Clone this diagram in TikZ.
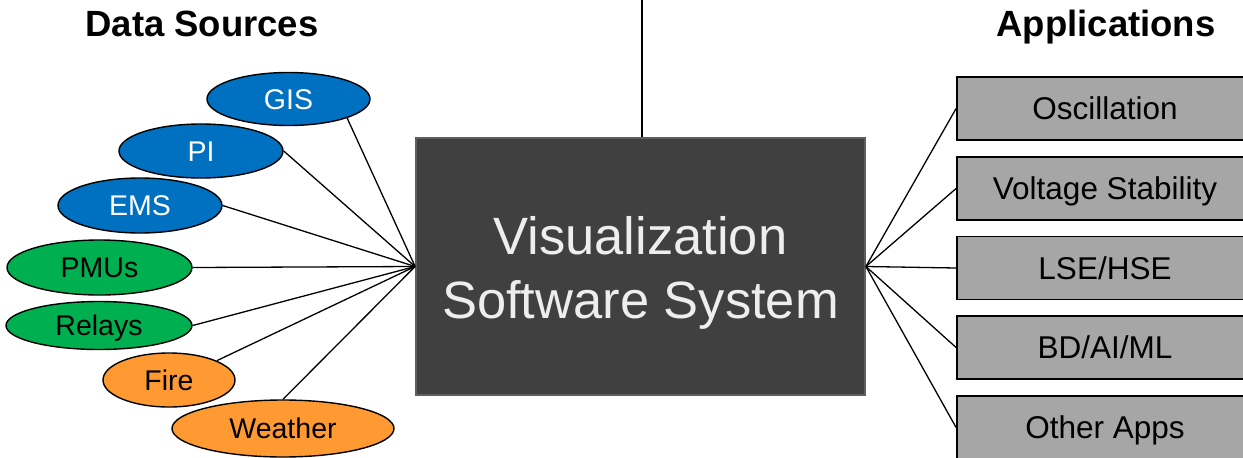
\documentclass[tikz,border=0pt]{standalone}
\usepackage{fontspec}
\setmainfont{Liberation Sans}
\usetikzlibrary{shapes.geometric}
\definecolor{srcblue}{HTML}{0070C0}
\definecolor{srcgreen}{HTML}{00B050}
\definecolor{srcorange}{HTML}{FF9A33}
\definecolor{appgray}{HTML}{A6A6A6}
\definecolor{coredark}{HTML}{404040}
\definecolor{coreedge}{HTML}{5F5F5F}
\definecolor{coretext}{HTML}{EEEEEE}
\tikzset{
  src/.style={ellipse, draw=black, line width=1.4pt, inner sep=0pt,
    text height=20.4pt, text depth=0pt,
    font=\fontsize{28.5}{32}\selectfont},
  bluesrc/.style={src, fill=srcblue, text=white},
  greensrc/.style={src, fill=srcgreen, text=black},
  orangesrc/.style={src, fill=srcorange, text=black},
  appbox/.style={rectangle, draw=black, line width=1.8pt, fill=appgray,
    minimum width=296pt, minimum height=63pt, inner sep=0pt,
    text height=22.5pt, text depth=0pt,
    font=\fontsize{31.5}{36}\selectfont},
  title/.style={anchor=base, font=\bfseries\fontsize{36.5}{40}\selectfont},
  link/.style={draw=black, line width=1.3pt},
}
\begin{document}
\begin{tikzpicture}[x=1pt, y=-1pt]
  \useasboundingbox (0,0) rectangle (1243,458);
  \clip (0,0) rectangle (1243,458);

  % headings
  \node[title] (srctitle) at (202,36) {Data Sources};
  \node[title] (apptitle) at (1106,36) {Applications};

  % central system box
  \node[rectangle, fill=coredark, draw=coreedge, line width=1.8pt,
        minimum width=449pt, minimum height=257pt, inner sep=0pt]
        (core) at (640.5,266.5) {};
  \node[align=center, text=coretext, inner sep=0pt,
        font=\fontsize{52.5}{64}\selectfont]
        (coretxt) at ([yshift=-6pt]core.center) {Visualization\\Software System};

  % feed line from above
  \coordinate (feed) at (642,0);
  \draw[link] (feed) -- (feed |- core.north);

  % data sources
  \node[bluesrc, minimum width=163pt, minimum height=53pt] (gis) at (288.5,99) {GIS};
  \node[bluesrc, minimum width=164pt, minimum height=54pt] (pi) at (201,151) {PI};
  \node[bluesrc, minimum width=164pt, minimum height=55pt] (ems) at (140,205.5) {EMS};
  \node[greensrc, minimum width=185pt, minimum height=55pt] (pmu) at (99.5,267.5) {PMUs};
  \node[greensrc, minimum width=186pt, minimum height=48pt] (relay) at (99,325.5) {Relays};
  \node[orangesrc, minimum width=132pt, minimum height=54pt] (fire) at (169,380) {Fire};
  \node[orangesrc, minimum width=222pt, minimum height=57pt] (weather) at (283,428.5) {Weather};

  \draw[link] (gis.-18) -- (core.west);
  \draw[link] (pi.east) -- (core.west);
  \draw[link] (ems.east) -- (core.west);
  \draw[link] (pmu.east) -- (core.west);
  \draw[link] (relay.east) -- (core.west);
  \draw[link] (fire.22) -- (core.west);
  \draw[link] (weather.north) -- (core.west);

  % applications
  \node[appbox] (osc) at (1105,108.5) {Oscillation};
  \node[appbox] (volt) at (1105,188.5) {Voltage Stability};
  \node[appbox] (lse) at (1105,268) {LSE/HSE};
  \node[appbox] (bd) at (1105,347.5) {BD/AI/ML};
  \node[appbox] (other) at (1105,427.5) {Other Apps};

  \draw[link] (core.east) -- (osc.west);
  \draw[link] (core.east) -- (volt.west);
  \draw[link] (core.east) -- (lse.west);
  \draw[link] (core.east) -- (bd.west);
  \draw[link] (core.east) -- (other.west);
\end{tikzpicture}
\end{document}
